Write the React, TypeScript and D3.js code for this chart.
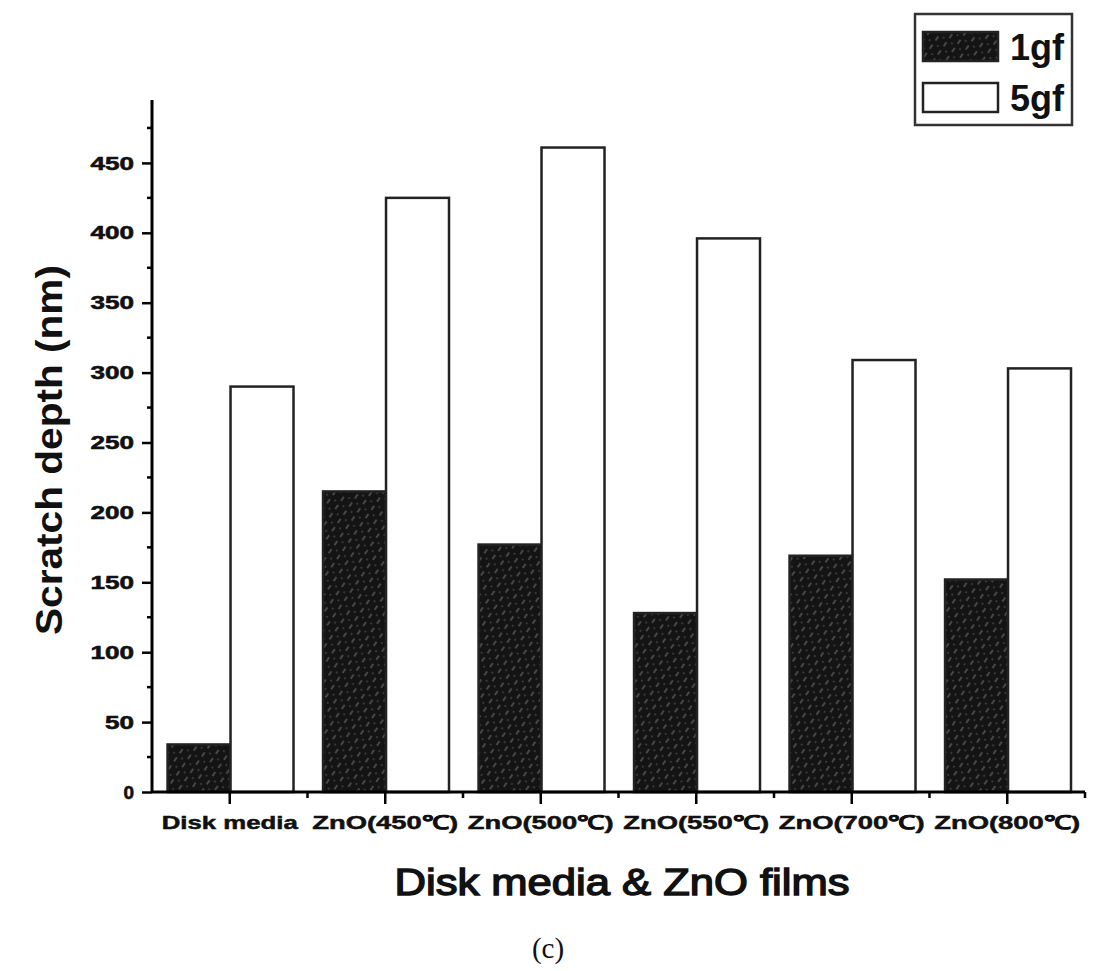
import React, { useRef, useEffect } from 'react';
import * as d3 from 'd3';

const categories = ['Disk media', 'ZnO(450℃)', 'ZnO(500℃)', 'ZnO(550℃)', 'ZnO(700℃)', 'ZnO(800℃)'];
const series = ['1gf', '5gf'];
const values1gf = [34, 215, 177, 128, 169, 152];
const values5gf = [290, 425, 461, 396, 309, 303];
const yTicks = [0, 50, 100, 150, 200, 250, 300, 350, 400, 450];

const ScratchChart: React.FC = () => {
  const svgRef = useRef<SVGSVGElement | null>(null);

  const width = 1099;
  const height = 971;
  const marginLeft = 152;
  const marginRight = 14;
  const marginTop = 100;
  const baseY = 792;

  useEffect(() => {
    if (!svgRef.current) return;
    const svg = d3.select(svgRef.current);
    svg.selectAll('*').remove();

    const font = '"Liberation Sans", Arial, sans-serif';

    // hatched fill for the 1gf bars
    const defs = svg.append('defs');
    const pat = defs.append('pattern')
      .attr('id', 'hatch')
      .attr('patternUnits', 'userSpaceOnUse')
      .attr('width', 10)
      .attr('height', 10)
      .attr('patternTransform', 'rotate(-55)');
    pat.append('rect').attr('width', 10).attr('height', 10).attr('fill', '#141414');
    pat.append('line')
      .attr('x1', 0).attr('y1', 2).attr('x2', 5).attr('y2', 2)
      .attr('stroke', '#7a7a7a').attr('stroke-width', 1);
    pat.append('line')
      .attr('x1', 6).attr('y1', 7).attr('x2', 8).attr('y2', 7)
      .attr('stroke', '#5a5a5a').attr('stroke-width', 1);

    const x = d3.scaleBand<string>()
      .domain(categories)
      .range([marginLeft, width - marginRight])
      .paddingInner(0)
      .paddingOuter(0);

    const xSub = d3.scaleBand<string>()
      .domain(series)
      .range([0, x.bandwidth() * 0.81])
      .padding(0);

    const y = d3.scaleLinear()
      .domain([0, 495])
      .range([baseY, marginTop]);

    const rows = categories.map((c, i) => ({ cat: c, v: [values1gf[i], values5gf[i]] }));

    const groups = svg.append('g')
      .selectAll('g')
      .data(rows)
      .join('g')
      .attr('transform', d => `translate(${(x(d.cat) ?? 0) + x.bandwidth() * 0.1},0)`);

    groups.selectAll('rect')
      .data(d => d.v.map((v, j) => ({ key: series[j], v })))
      .join('rect')
      .attr('x', d => xSub(d.key) ?? 0)
      .attr('y', d => y(d.v))
      .attr('width', xSub.bandwidth())
      .attr('height', d => baseY - y(d.v))
      .attr('fill', d => d.key === '1gf' ? 'url(#hatch)' : '#fff')
      .attr('stroke', '#222')
      .attr('stroke-width', 2.5);

    // y axis
    const yAxis = svg.append('g')
      .attr('transform', `translate(${marginLeft},0)`)
      .call(d3.axisLeft(y).tickValues(yTicks).tickSize(10).tickPadding(8))
      .call(g => g.select('.domain').attr('stroke-width', 3).attr('d', `M0,${baseY}V${marginTop}`));
    yAxis.selectAll('text')
      .attr('font-family', font)
      .attr('font-weight', 'bold')
      .attr('font-size', 19)
      .attr('fill', '#111')
      .attr('stroke', '#111')
      .attr('stroke-width', 0.6)
      .each(function (d) {
        const len = String(d).length;
        if (len > 1) d3.select(this).attr('textLength', len * 14.5).attr('lengthAdjust', 'spacingAndGlyphs');
      });
    yAxis.selectAll('line').attr('stroke-width', 2.5);
    svg.append('g')
      .selectAll('line')
      .data(d3.range(25, 495, 50))
      .join('line')
      .attr('x1', marginLeft - 5)
      .attr('x2', marginLeft)
      .attr('y1', d => y(d))
      .attr('y2', d => y(d))
      .attr('stroke', '#000')
      .attr('stroke-width', 2.5);

    // x axis
    const xAxis = svg.append('g')
      .attr('transform', `translate(0,${baseY})`)
      .call(d3.axisBottom(x).tickSize(12).tickPadding(12))
      .call(g => g.select('.domain').attr('stroke-width', 3).attr('d', `M${marginLeft},0H${width - marginRight}`));
    xAxis.selectAll('text')
      .attr('font-family', font)
      .attr('font-weight', 'bold')
      .attr('font-size', 19)
      .attr('fill', '#111')
      .attr('stroke', '#111')
      .attr('stroke-width', 0.5)
      .attr('textLength', (d: any) => d === 'Disk media' ? 136 : 146)
      .attr('lengthAdjust', 'spacingAndGlyphs');
    xAxis.selectAll('line').attr('stroke-width', 2.5);
    svg.append('g')
      .selectAll('line')
      .data(categories)
      .join('line')
      .attr('x1', d => (x(d) ?? 0) + x.bandwidth())
      .attr('x2', d => (x(d) ?? 0) + x.bandwidth())
      .attr('y1', baseY)
      .attr('y2', baseY + 6)
      .attr('stroke', '#000')
      .attr('stroke-width', 2.5);

    // axis titles
    svg.append('text')
      .attr('transform', `translate(62,${(baseY + marginTop) / 2 + 4}) rotate(-90)`)
      .attr('text-anchor', 'middle')
      .attr('font-family', font)
      .attr('font-weight', 'bold')
      .attr('font-size', 36)
      .attr('fill', '#111')
      .attr('textLength', 370)
      .attr('lengthAdjust', 'spacingAndGlyphs')
      .text('Scratch depth (nm)');

    svg.append('text')
      .attr('x', 622)
      .attr('y', 895)
      .attr('text-anchor', 'middle')
      .attr('font-family', font)
      .attr('font-size', 36)
      .attr('fill', '#111')
      .attr('stroke', '#111')
      .attr('stroke-width', 1.4)
      .attr('textLength', 455)
      .attr('lengthAdjust', 'spacingAndGlyphs')
      .text('Disk media & ZnO films');

    svg.append('text')
      .attr('x', 548)
      .attr('y', 958)
      .attr('text-anchor', 'middle')
      .attr('font-family', '"Liberation Serif", "Times New Roman", serif')
      .attr('font-size', 29)
      .attr('fill', '#111')
      .text('(c)');

    // legend
    const leg = svg.append('g').attr('transform', 'translate(915,14)');
    leg.append('rect')
      .attr('width', 157).attr('height', 111)
      .attr('fill', '#fff').attr('stroke', '#333').attr('stroke-width', 2.5);
    series.forEach((s, i) => {
      leg.append('rect')
        .attr('x', 8).attr('y', 18 + i * 51)
        .attr('width', 75).attr('height', 29)
        .attr('fill', i === 0 ? 'url(#hatch)' : '#fff')
        .attr('stroke', '#222').attr('stroke-width', 2.5);
      leg.append('text')
        .attr('x', 95).attr('y', 46 + i * 51)
        .attr('font-family', font)
        .attr('font-weight', 'bold')
        .attr('font-size', 36)
        .attr('fill', '#111')
        .text(s);
    });
  }, []);

  return (
    <svg
      ref={svgRef}
      width={width}
      height={height}
      style={{ position: 'absolute', left: 0, top: 0, background: '#fff' }}
    />
  );
};

export default function App() {
  return <ScratchChart />;
}
